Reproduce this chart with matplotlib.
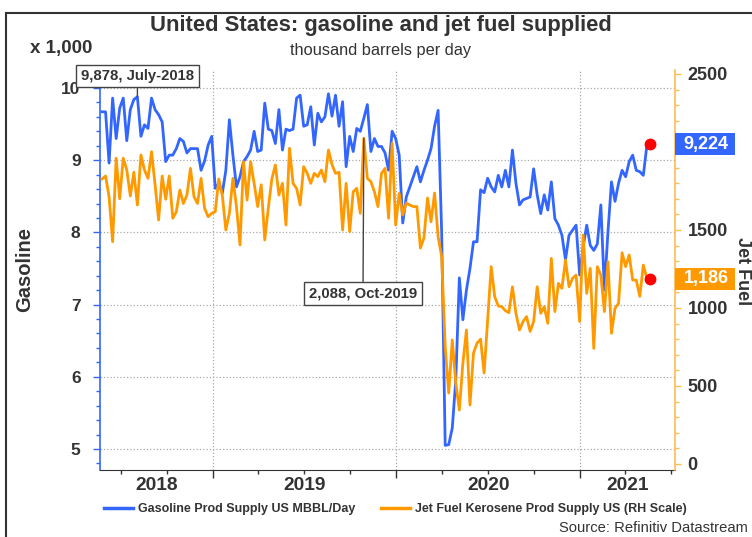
import numpy as np
import matplotlib
matplotlib.use('Agg')
import matplotlib.pyplot as plt
import matplotlib.dates as mdates
from matplotlib.ticker import MultipleLocator
from matplotlib.lines import Line2D
from matplotlib.patches import Rectangle
from matplotlib.transforms import IdentityTransform, blended_transform_factory

plt.rcParams['font.family'] = ['Liberation Sans', 'DejaVu Sans']

# ---------------- data (thousand barrels per day) ----------------
start_date = '2018-05-25'
end_date = '2021-05-21'

gasoline = [
    9.67, 9.67, 8.96, 9.86, 9.30, 9.72, 9.86, 9.27, 9.70, 9.84,
    9.878, 9.33, 9.49, 9.44, 9.86, 9.70, 9.63, 9.53, 8.98, 9.07,
    9.07, 9.16, 9.30, 9.26, 9.10, 9.16, 9.16, 9.16, 8.86, 8.99,
    9.21, 9.33, 8.61, 8.68, 8.54, 8.86, 9.56, 9.07, 8.63, 8.77,
    8.98, 9.05, 9.14, 9.40, 9.12, 9.14, 9.79, 9.43, 9.41, 9.23,
    9.70, 9.14, 9.43, 9.41, 9.43, 9.86, 9.90, 9.47, 9.49, 9.74,
    9.21, 9.65, 9.53, 9.60, 9.92, 9.61, 9.90, 9.47, 9.81, 8.91,
    9.33, 9.12, 9.44, 9.40, 9.58, 9.77, 9.12, 9.30, 9.19, 9.19,
    9.10, 8.86, 9.40,
    9.30, 9.07, 8.13, 8.49, 8.63, 8.77, 8.91, 8.70, 8.86, 9.00,
    9.16, 9.47, 9.69, 8.00, 5.05, 5.06, 5.29, 5.96, 7.37, 6.79,
    7.20, 7.50, 7.87, 7.87, 8.59, 8.55, 8.75, 8.63, 8.56, 8.79,
    8.63, 8.86, 8.63, 9.14, 8.68, 8.38, 8.45, 8.47, 8.49, 8.88,
    8.52, 8.26, 8.52, 8.31, 8.70, 8.19, 8.10, 7.96, 7.62, 7.96,
    8.03, 8.10, 7.41, 7.80, 8.10, 7.82, 7.75, 7.84, 8.38, 7.20,
    8.00, 8.70, 8.43, 8.68, 8.86, 8.77, 8.98, 9.07, 8.86, 8.84,
    8.79, 9.20, 9.224,
]

jet_fuel = [
    1827, 1846, 1713, 1425, 1960, 1700, 1960, 1885, 1718, 1870,
    1660, 1981, 1885, 1831, 2002, 1790, 1564, 1846, 1697, 1846,
    1575, 1617, 1756, 1670, 1724, 1895, 1713, 1670, 1831, 1639,
    1585, 1607, 1617, 1827, 1724, 1500, 1607, 1831, 1650, 1404,
    1938, 1692, 1938, 1799, 1650, 1790, 1436, 1639, 1827, 1917,
    1724, 1799, 1532, 2024, 1799, 1767, 1660, 1906, 1863, 1799,
    1863, 1842, 1885, 1810, 2013, 1920, 1863, 1870, 1500, 1799,
    1489, 1745, 1767, 1607, 2088, 1831, 1810, 1745, 1650, 1863,
    1895, 1575, 2056,
    1532, 1735, 1596, 1673, 1660, 1650, 1650, 1384, 1449, 1705,
    1553, 1737, 1457, 1329, 752, 455, 795, 519, 346, 647,
    859, 378, 711, 775, 800, 583, 924, 1265, 1072, 1013,
    1008, 983, 970, 1136, 966, 859, 913, 945, 850, 913,
    1136, 966, 1008, 902, 1318, 977, 1158, 1126, 1308, 1136,
    1190, 1211, 913, 1468, 1094, 1254, 741, 1265, 1211, 977,
    1297, 838, 998, 1030, 1354, 1265, 1340, 1179, 1179, 1075,
    1275, 1190, 1186,
]

year_labels = ['2018', '2019', '2020', '2021']
left_ticks = [5, 6, 7, 8, 9, 10]
right_ticks = [0, 500, 1000, 1500, 2000, 2500]
right_tick_labels = ['0', '500', '1000', '1500', '', '2500']  # 2000 is hidden behind the value box
ann1_idx, ann1_text = 10, '9,878, July-2018'
ann2_idx, ann2_text = 74, '2,088, Oct-2019'

BLUE = '#3366FF'
ORANGE = '#FF9900'
ORANGE_SPINE = '#FFBB55'
TXT = '#333333'

# ---------------- figure ----------------
W, H = 752, 537
fig = plt.figure(figsize=(W / 100, H / 100), dpi=100)
L, R, T, B = 100, 675, 70, 470
ax = fig.add_axes([L / W, 1 - B / H, (R - L) / W, (B - T) / H])
ax2 = ax.twinx()

t0 = mdates.date2num(np.datetime64(start_date))
t1 = mdates.date2num(np.datetime64(end_date))
x = np.linspace(t0, t1, len(gasoline))

ax.plot(x, gasoline, color=BLUE, lw=2.0, zorder=3)
ax2.plot(x, jet_fuel, color=ORANGE, lw=2.0, zorder=3)

ax.plot([x[-1]], [gasoline[-1]], 'o', color='#FF0000', ms=7.5, zorder=5)
ax2.plot([x[-1]], [jet_fuel[-1]], 'o', color='#FF0000', ms=7.5, zorder=5)

xlo = mdates.date2num(np.datetime64('2018-05-21'))
xhi = mdates.date2num(np.datetime64('2021-07-09'))
ax.set_xlim(xlo, xhi)
ax.set_ylim(4.709, 10.249)
ax2.set_ylim(-38.5, 2525.6)

# x axis
ax.xaxis.set_major_locator(mdates.YearLocator())
ax.xaxis.set_minor_locator(mdates.MonthLocator(bymonth=[1, 4, 7, 10]))
ax.tick_params(axis='x', which='major', length=6, width=1, color='#333333',
               labelbottom=False, direction='out')
ax.tick_params(axis='x', which='minor', length=3, width=1, color='#333333',
               direction='out')
trans_x = blended_transform_factory(ax.transData, ax.transAxes)
bounds = [xlo] + [mdates.date2num(np.datetime64(f'{y}-01-01')) for y in (2019, 2020, 2021)] + [xhi]
for i, lab in enumerate(year_labels):
    xm = (bounds[i] + bounds[i + 1]) / 2
    ax.text(xm, -(490 - B) / (B - T), lab, transform=trans_x, ha='center', va='baseline',
            fontsize=13.8, fontweight='bold', color=TXT)

# left axis
ax.set_yticks(left_ticks)
ax.set_yticklabels([str(v) for v in left_ticks], fontweight='bold', fontsize=12.5, color=TXT)
ax.yaxis.set_minor_locator(MultipleLocator(0.2))
ax.tick_params(axis='y', which='major', length=5, width=1, color=BLUE, pad=9)
ax.tick_params(axis='y', which='minor', length=3, width=1, color=BLUE)

# right axis
ax2.set_yticks(right_ticks)
ax2.set_yticklabels(right_tick_labels, fontweight='bold', fontsize=13, color=TXT)
ax2.yaxis.set_minor_locator(MultipleLocator(100))
ax2.tick_params(axis='y', which='major', length=4, width=1, color=ORANGE_SPINE, pad=5)
ax2.tick_params(axis='y', which='minor', length=3, width=1, color=ORANGE_SPINE)

# spines
for s in ['top', 'right']:
    ax.spines[s].set_visible(False)
ax.spines['left'].set_color(BLUE)
ax.spines['left'].set_linewidth(1.2)
ax.spines['left'].set_bounds(4.709, 10)
ax.spines['bottom'].set_color('#333333')
for s in ['top', 'left', 'bottom']:
    ax2.spines[s].set_visible(False)
ax2.spines['right'].set_color(ORANGE_SPINE)
ax2.spines['right'].set_linewidth(1.2)

# grid
ax.grid(axis='y', which='major', color='#AAAAAA', linestyle=':', linewidth=0.9)
ax.grid(axis='x', which='major', color='#AAAAAA', linestyle=':', linewidth=0.9)
ax.set_axisbelow(True)

# annotations
box = dict(boxstyle='square,pad=0.3', facecolor='white', edgecolor='#444444', linewidth=1)
ax.annotate(ann1_text, xy=(x[ann1_idx], gasoline[ann1_idx]), xycoords='data',
            xytext=(137.5, H - 76), textcoords='figure pixels',
            ha='center', va='center', fontsize=10.7, fontweight='bold', color=TXT,
            bbox=box, arrowprops=dict(arrowstyle='-', color='#444444', lw=1,
                                      shrinkA=0, shrinkB=0), zorder=6,
            annotation_clip=False)
ax2.annotate(ann2_text, xy=(x[ann2_idx], jet_fuel[ann2_idx]), xycoords='data',
             xytext=(363, H - 293.5), textcoords='figure pixels',
             ha='center', va='center', fontsize=10.7, fontweight='bold', color=TXT,
             bbox=box, arrowprops=dict(arrowstyle='-', color='#444444', lw=1,
                                       shrinkA=0, shrinkB=0), zorder=6)

# last value boxes
def value_box(axis, val, text, color):
    ypix = axis.transData.transform((x[-1], val))[1]
    fig.add_artist(Rectangle((R, ypix - 11), 60, 22, transform=IdentityTransform(),
                             facecolor=color, edgecolor='none', zorder=10))
    fig.text((R + 31) / W, ypix / H, text, ha='center', va='center', color='white',
             fontsize=13, fontweight='bold', zorder=11)

value_box(ax, gasoline[-1], f'{gasoline[-1]*1000:,.0f}', BLUE)
value_box(ax2, jet_fuel[-1], f'{jet_fuel[-1]:,.0f}', ORANGE)

# texts
fig.text(381 / W, 1 - 30.5 / H, 'United States: gasoline and jet fuel supplied',
         ha='center', va='baseline', fontsize=15.8, fontweight='bold', color=TXT)
fig.text(381 / W, 1 - 55 / H, 'thousand barrels per day', ha='center', va='baseline',
         fontsize=11.8, color=TXT)
fig.text(30 / W, 1 - 53.3 / H, 'x 1,000', ha='left', va='baseline', fontsize=13.5,
         fontweight='bold', color=TXT)
fig.text(25 / W, 1 - 269 / H, 'Gasoline', ha='center', va='center', rotation=90,
         fontsize=14.5, fontweight='bold', color=TXT)
fig.text(743 / W, 1 - 271 / H, 'Jet Fuel', ha='center', va='center', rotation=270,
         fontsize=13, fontweight='bold', color=TXT)

# legend
handles = [Line2D([], [], color=BLUE, lw=2.5), Line2D([], [], color=ORANGE, lw=2.5)]
labels = ['Gasoline Prod Supply US MBBL/Day', 'Jet Fuel Kerosene Prod Supply US (RH Scale)']
leg = fig.legend(handles, labels, loc='center left', bbox_to_anchor=(104 / W, 1 - 509 / H),
                 ncol=2, frameon=False, borderpad=0, borderaxespad=0,
                 handlelength=2.3, handletextpad=0.45, columnspacing=2.0,
                 prop={'size': 9, 'weight': 'bold'})
for t in leg.get_texts():
    t.set_color(TXT)

fig.text(748 / W, 1 - 532 / H, 'Source: Refinitiv Datastream', ha='right', va='baseline',
         fontsize=10.6, color=TXT)

# frame
fig.add_artist(Line2D([6, W], [H - 13, H - 13], transform=IdentityTransform(),
                      color='#333333', lw=1.5))
fig.add_artist(Line2D([6, 6], [H - 13, 0], transform=IdentityTransform(),
                      color='#333333', lw=1.5))

fig.savefig('out.png', dpi=100)
